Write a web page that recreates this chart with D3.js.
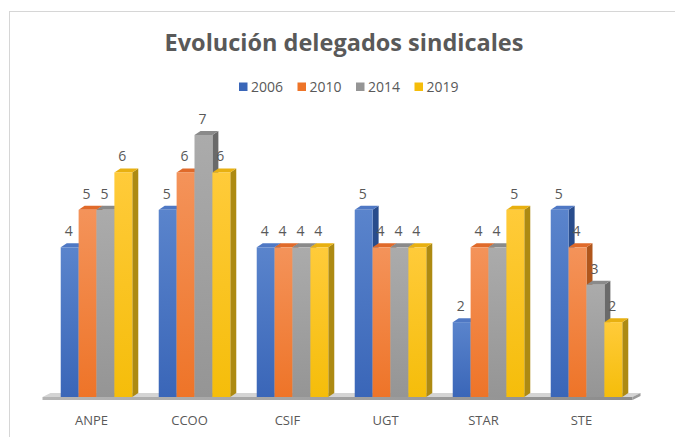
<!DOCTYPE html>
<html>
<head>
<meta charset="UTF-8">
<title>Evolución delegados sindicales</title>
<script src="https://d3js.org/d3.v7.min.js"></script>
<style>
  body { margin: 0; background: #fff; }
  .title { font: bold 23.5px "Open Sans", sans-serif; fill: #595959; text-anchor: middle; }
  .legend-text { font: 14px "Open Sans", sans-serif; fill: #595959; }
  .value-label { font: 14px "Open Sans", sans-serif; fill: #595959; text-anchor: middle; }
  .cat-label { font: 13px "Open Sans", sans-serif; fill: #595959; text-anchor: middle; }
</style>
</head>
<body>
<div id="chart"></div>
<script>
const categories = ["ANPE", "CCOO", "CSIF", "UGT", "STAR", "STE"];
const years = ["2006", "2010", "2014", "2019"];
const values2006 = [4, 5, 4, 5, 2, 5];
const values2010 = [5, 6, 4, 4, 4, 4];
const values2014 = [5, 7, 4, 4, 4, 3];
const values2019 = [6, 6, 4, 4, 5, 2];
const seriesValues = [values2006, values2010, values2014, values2019];

const width = 675, height = 437;
// front, light top, side, top face
const palette = [
  {base: "#3a66b8", light: "#5a84cc", side: "#284c8c", top: "#4f78c4"},
  {base: "#ee7428", light: "#f4935a", side: "#b0561c", top: "#e06a2a"},
  {base: "#959595", light: "#ababab", side: "#6a6a6a", top: "#8a8a8a"},
  {base: "#f5bd0a", light: "#ffcb3a", side: "#ad8a12", top: "#e8b010"}
];

const svg = d3.select("#chart").append("svg")
  .attr("width", width).attr("height", height);

const defs = svg.append("defs");
palette.forEach((p, i) => {
  const g = defs.append("linearGradient").attr("id", "grad" + i)
    .attr("x1", 0).attr("y1", 0).attr("x2", 0).attr("y2", 1);
  g.append("stop").attr("offset", "0%").attr("stop-color", p.light);
  g.append("stop").attr("offset", "100%").attr("stop-color", p.base);
});
const floorGrad = defs.append("linearGradient").attr("id", "floorGrad")
  .attr("x1", 0).attr("y1", 0).attr("x2", 1).attr("y2", 0);
floorGrad.append("stop").attr("offset", "0%").attr("stop-color", "#b5b5b5");
floorGrad.append("stop").attr("offset", "100%").attr("stop-color", "#8c8c8c");

// chart frame
svg.append("rect")
  .attr("x", 9.5).attr("y", 11.5)
  .attr("width", 700).attr("height", 450)
  .attr("fill", "#fff").attr("stroke", "#d6d6d6");

svg.append("text").attr("class", "title")
  .attr("x", 344).attr("y", 51)
  .text("Evolución delegados sindicales");

// legend
const legend = svg.append("g").attr("transform", "translate(239,82.5)");
years.forEach((yr, i) => {
  const item = legend.append("g").attr("transform", `translate(${i * 58.5},0)`);
  item.append("rect").attr("width", 8.5).attr("height", 8.5)
    .attr("fill", palette[i].base);
  item.append("text").attr("class", "legend-text")
    .attr("x", 12).attr("y", 9.5).text(yr);
});

const x0 = d3.scaleBand().domain(categories)
  .range([47.5, 635.5]).paddingInner(0.27).paddingOuter(0.135);
const x1 = d3.scaleBand().domain(years).range([0, x0.bandwidth()]);
const y = d3.scaleLinear().domain([0, 7]).range([397, 135]);

const dx = 6, dy = -4;
const base = y(0);

// floor
const fl = x0.range()[0] - 5, fr = x0.range()[1] - 3;
svg.append("polygon")
  .attr("points", `${fl},${base} ${fl + dx + 2},${base + dy} ${fr + dx + 2},${base + dy} ${fr},${base}`)
  .attr("fill", "#d4d4d4");
svg.append("rect")
  .attr("x", fl).attr("y", base).attr("width", fr - fl).attr("height", 3)
  .attr("fill", "url(#floorGrad)");
svg.append("polygon")
  .attr("points", `${fr},${base} ${fr + dx + 2},${base + dy} ${fr + dx + 2},${base + dy + 3} ${fr},${base + 3}`)
  .attr("fill", "#9a9a9a");

const bars = [];
categories.forEach((c, ci) => {
  years.forEach((yr, si) => {
    bars.push({cat: c, year: yr, si: si, value: seriesValues[si][ci]});
  });
});

const w = x1.bandwidth();
const barG = svg.append("g").selectAll("g")
  .data(bars).join("g")
  .attr("transform", d => `translate(${x0(d.cat) + x1(d.year)},0)`);

barG.append("polygon")
  .attr("points", d => {
    const t = y(d.value);
    return `${w},${t} ${w + dx},${t + dy} ${w + dx},${base + dy} ${w},${base}`;
  })
  .attr("fill", d => palette[d.si].side);
barG.append("polygon")
  .attr("points", d => {
    const t = y(d.value);
    return `0,${t} ${dx},${t + dy} ${w + dx},${t + dy} ${w},${t}`;
  })
  .attr("fill", d => palette[d.si].top);
barG.append("rect")
  .attr("x", 0).attr("y", d => y(d.value))
  .attr("width", w).attr("height", d => base - y(d.value))
  .attr("fill", d => `url(#grad${d.si})`);

// value labels
svg.append("g").selectAll("text")
  .data(bars).join("text")
  .attr("class", "value-label")
  .attr("x", d => x0(d.cat) + x1(d.year) + w / 2 - 1)
  .attr("y", d => y(d.value) - 11)
  .text(d => d.value);

// category labels
svg.append("g").selectAll("text")
  .data(categories).join("text")
  .attr("class", "cat-label")
  .attr("x", d => x0(d) + x0.bandwidth() / 2 - 5)
  .attr("y", 425)
  .text(d => d);
</script>
</body>
</html>
